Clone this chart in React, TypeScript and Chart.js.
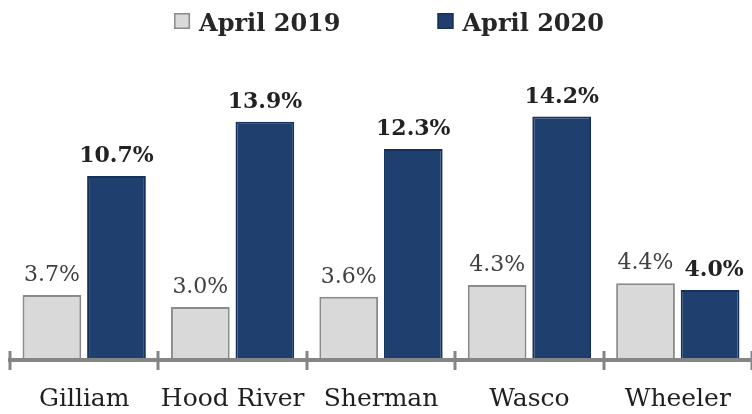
import React, { useEffect, useRef } from "react";
import { Chart, registerables } from "chart.js";

Chart.register(...registerables);

const categories = ["Gilliam", "Hood River", "Sherman", "Wasco", "Wheeler"];
const seriesNames = ["April 2019", "April 2020"];
const april2019 = [3.7, 3.0, 3.6, 4.3, 4.4];
const april2020 = [10.7, 13.9, 12.3, 14.2, 4.0];

const SERIF = "'DejaVu Serif', serif";

const customPlugin = {
  id: "custom",
  afterDatasetsDraw(chart: any) {
    const ctx = chart.ctx;
    ctx.save();
    ctx.textAlign = "center";
    ctx.textBaseline = "alphabetic";
    chart.data.datasets.forEach((ds: any, di: number) => {
      const meta = chart.getDatasetMeta(di);
      meta.data.forEach((el: any, i: number) => {
        const v = ds.data[i] as number;
        if (di === 0) {
          ctx.font = `22px ${SERIF}`;
          ctx.fillStyle = "#404040";
        } else {
          ctx.font = `bold 22px ${SERIF}`;
          ctx.fillStyle = "#222222";
        }
        ctx.fillText(v.toFixed(1) + "%", el.x + (di === 1 && i === categories.length - 1 ? 4 : 0), el.y - 14);
      });
    });
    // axis line and ticks
    const area = chart.chartArea;
    const x = chart.scales.x;
    ctx.strokeStyle = "#858585";
    ctx.lineWidth = 4;
    ctx.beginPath();
    ctx.moveTo(area.left - 2, area.bottom + 2);
    ctx.lineTo(area.right, area.bottom + 2);
    ctx.stroke();
    ctx.lineWidth = 3;
    const n = categories.length;
    const step = (x.right - x.left) / n;
    for (let i = 0; i <= n; i++) {
      const px = Math.round(x.left + i * step);
      ctx.beginPath();
      ctx.moveTo(px, area.bottom - 7);
      ctx.lineTo(px, area.bottom + 12);
      ctx.stroke();
    }
    // legend
    ctx.font = `bold 24px ${SERIF}`;
    const gap = 97;
    const widths = chart.data.datasets.map((ds: any) => 16 + 9 + ctx.measureText(ds.label).width);
    const total = widths.reduce((a: number, b: number) => a + b, 0) + gap;
    let cx = 389 - total / 2;
    chart.data.datasets.forEach((ds: any, di: number) => {
      ctx.fillStyle = ds.backgroundColor;
      ctx.fillRect(cx, 13, 16, 16);
      ctx.strokeStyle = ds.borderColor;
      ctx.lineWidth = 1.5;
      ctx.strokeRect(cx + 0.75, 13.75, 14.5, 14.5);
      ctx.fillStyle = "#262626";
      ctx.textAlign = "left";
      ctx.fillText(ds.label, cx + 25, 31);
      cx += widths[di] + gap;
    });
    ctx.restore();
  },
};

export default function App() {
  const ref = useRef<HTMLCanvasElement | null>(null);
  useEffect(() => {
    if (!ref.current) return;
    const chart = new Chart(ref.current, {
      type: "bar",
      data: {
        labels: categories,
        datasets: [
          {
            label: seriesNames[0],
            data: april2019,
            backgroundColor: "#d9d9d9",
            borderColor: "#8a8a8a",
            borderWidth: 2,
            categoryPercentage: 0.87,
            barPercentage: 0.91,
          },
          {
            label: seriesNames[1],
            data: april2020,
            backgroundColor: "#1f3f6e",
            borderColor: "#16325b",
            borderWidth: 2,
            categoryPercentage: 0.87,
            barPercentage: 0.91,
          },
        ],
      },
      options: {
        animation: false,
        responsive: false,
        maintainAspectRatio: false,
        layout: { padding: { top: 86, left: 10, right: 0, bottom: 0 } },
        plugins: { legend: { display: false }, tooltip: { enabled: false } },
        scales: {
          x: {
            grid: {
              display: true,
              drawOnChartArea: false,
              drawTicks: true,
              tickLength: 20,
              color: "rgba(0,0,0,0)",
            },
            border: { display: false },
            ticks: {
              font: { family: SERIF, size: 25 },
              color: "#1f1f1f",
              padding: 6,
              maxRotation: 0,
              autoSkip: false,
            },
            afterFit: (s: any) => {
              s.height = 56;
            },
          },
          y: { display: false, min: 0, max: 16 },
        },
      },
      plugins: [customPlugin],
    });
    return () => chart.destroy();
  }, []);
  return (
    <div style={{ position: "fixed", left: 0, top: 0, width: 752, height: 414, background: "#fff" }}>
      <canvas ref={ref} width={752} height={414} style={{ width: 752, height: 414 }} />
    </div>
  );
}
